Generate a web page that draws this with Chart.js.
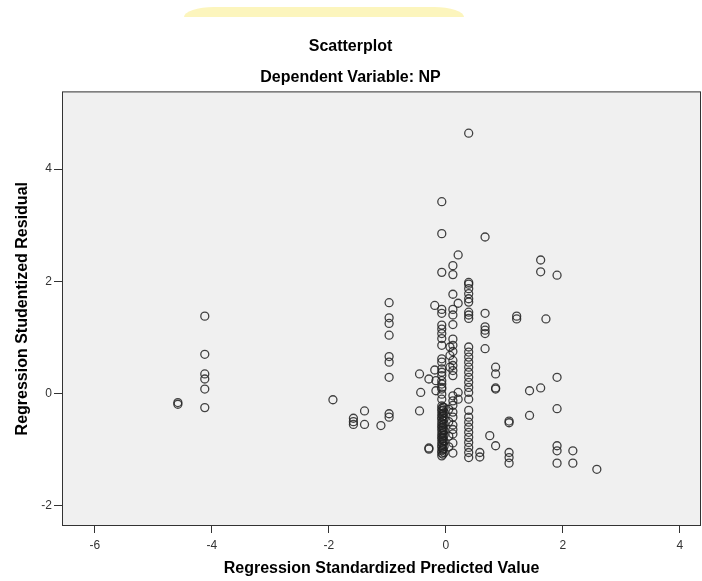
<!DOCTYPE html>
<html lang="en">
<head>
    <meta charset="UTF-8">
    <title>Scatterplot</title>
    <script src="https://cdn.jsdelivr.net/npm/chart.js"></script>
    <style>
        html, body { margin: 0; padding: 0; background: #fff; }
        .wrap { position: relative; width: 702px; height: 581px; }
        .tab {
            position: absolute; left: 184px; top: 7px; width: 280px; height: 10px;
            background: #fcf5bd;
            border-radius: 30px 30px 0 0 / 10px 10px 0 0;
        }
        canvas { position: absolute; left: 0; top: 0; }
    </style>
</head>
<body>
<div class="wrap">
    <div class="tab"></div>
    <canvas id="myChart" width="702" height="581"></canvas>
</div>
<script>
    // predicted value (x) of each column of points, and the residuals (y) found at it
    const predictedValues = [-4.58, -4.12, -1.93, -1.58, -1.39, -1.11, -0.97, -0.45, -0.43, -0.29, -0.19, -0.17,
        -0.07, -0.05, -0.03, 0.05, 0.07, 0.12, 0.21, 0.39, 0.58, 0.67, 0.75, 0.85, 1.08, 1.21, 1.43, 1.62, 1.71, 1.90, 2.17, 2.58];
    const residualsByColumn = [
        [-0.19, -0.16],
        [1.38, 0.70, 0.35, 0.26, 0.08, -0.25],
        [-0.11],
        [-0.44, -0.50, -0.55],
        [-0.31, -0.55],
        [-0.57],
        [1.62, 1.35, 1.25, 1.04, 0.66, 0.56, 0.29, -0.36, -0.42],
        [0.35, -0.31],
        [0.02],
        [0.26, -0.97, -0.99],
        [1.57, 0.42],
        [0.23, 0.05],
        [3.42, 2.85, 2.16, 1.50, 1.43, 1.22, 1.15, 1.07, 0.98, 0.86, 0.62, 0.56, 0.44, 0.38, 0.32, 0.23, 0.17, 0.11,
            0.08, -0.01, -0.10, -0.22, -0.27, -0.31, -0.37, -0.42, -0.46, -0.52, -0.57, -0.61, -0.66, -0.72, -0.77,
            -0.81, -0.87, -0.92, -0.96, -1.02, -1.06, -1.11],
        [-0.24, -0.30, -0.36, -0.40, -0.48, -0.55, -0.60, -0.64, -0.70, -0.75, -0.80, -0.84, -0.90, -0.98, -1.00, -1.08],
        [-0.25, -0.34, -0.45, -0.54, -0.66, -0.74, -0.85, -0.94, -1.05],
        [-0.28, -0.50, -0.76, -0.95],
        [0.83, 0.68, 0.47],
        [2.28, 2.12, 1.77, 1.50, 1.40, 1.23, 0.97, 0.86, 0.75, 0.59, 0.50, 0.41, 0.32, -0.04, -0.13, -0.21, -0.33,
            -0.42, -0.56, -0.64, -0.72, -0.88, -1.06],
        [2.47, 1.61, 0.02, -0.10],
        [4.64, 1.98, 1.95, 1.87, 1.78, 1.69, 1.63, 1.45, 1.40, 1.34, 0.83, 0.74, 0.65, 0.56, 0.47, 0.38, 0.29, 0.20,
            0.11, 0.02, -0.10, -0.30, -0.42, -0.51, -0.60, -0.69, -0.78, -0.87, -0.96, -1.05, -1.14],
        [-1.05, -1.13],
        [2.79, 1.43, 1.19, 1.13, 1.07, 0.80],
        [-0.75],
        [0.47, 0.35, 0.10, 0.08, -0.93],
        [-0.49, -0.52, -1.05, -1.14, -1.24],
        [1.38, 1.33],
        [0.05, -0.39],
        [2.38, 2.17, 0.10],
        [1.33],
        [2.11, 0.29, -0.27, -0.93, -1.02, -1.24],
        [-1.02, -1.24],
        [-1.35]
    ];
    const xTicks = [-6, -4, -2, 0, 2, 4];
    const yTicks = [-2, 0, 2, 4];

    let points = [];
    for (let i = 0; i < predictedValues.length; i++) {
        for (let r of residualsByColumn[i]) {
            points.push({ x: predictedValues[i], y: r });
        }
    }

    const fontFamily = 'Arial, "Liberation Sans", sans-serif';

    // grey plot background and the dark frame round it
    const plotFrame = {
        id: 'plotFrame',
        beforeDraw(chart) {
            const a = chart.chartArea;
            const ctx = chart.ctx;
            ctx.save();
            ctx.fillStyle = '#f0f0f0';
            ctx.fillRect(a.left, a.top, a.right - a.left, a.bottom - a.top);
            ctx.restore();
        },
        afterDraw(chart) {
            const a = chart.chartArea;
            const ctx = chart.ctx;
            ctx.save();
            ctx.strokeStyle = '#333';
            ctx.lineWidth = 1;
            ctx.strokeRect(a.left + 0.5, a.top + 0.5, a.right - a.left - 1, a.bottom - a.top - 1);
            ctx.restore();
        }
    };

    new Chart(document.getElementById('myChart'), {
        type: 'scatter',
        data: {
            datasets: [{
                data: points,
                pointStyle: 'circle',
                pointRadius: 4,
                pointHoverRadius: 4,
                borderWidth: 1.3,
                borderColor: 'rgba(34, 34, 34, 0.85)',
                backgroundColor: 'rgba(0, 0, 0, 0)'
            }]
        },
        options: {
            responsive: false,
            animation: false,
            events: [],
            layout: { autoPadding: false, padding: { top: 0, right: 1, bottom: 0, left: 0 } },
            plugins: {
                legend: { display: false },
                tooltip: { enabled: false },
                title: {
                    display: true,
                    text: 'Scatterplot',
                    color: '#000',
                    font: { family: fontFamily, size: 16, weight: 'bold' },
                    padding: { top: 37, bottom: 12 }
                },
                subtitle: {
                    display: true,
                    text: 'Dependent Variable: NP',
                    color: '#000',
                    font: { family: fontFamily, size: 16, weight: 'bold' },
                    padding: { top: 0, bottom: 4 }
                }
            },
            scales: {
                x: {
                    type: 'linear',
                    min: -6.56,
                    max: 4.36,
                    afterBuildTicks: (scale) => { scale.ticks = xTicks.map(v => ({ value: v })); },
                    afterFit: (scale) => { scale.height = 55; },
                    border: { display: false },
                    grid: { drawOnChartArea: false, drawTicks: true, tickLength: 7, tickColor: '#333' },
                    ticks: { color: '#333', padding: 5, font: { family: fontFamily, size: 12 } },
                    title: {
                        display: true,
                        text: 'Regression Standardized Predicted Value',
                        color: '#000',
                        font: { family: fontFamily, size: 16, weight: 'bold' },
                        padding: { top: 0, bottom: 3 }
                    }
                },
                y: {
                    type: 'linear',
                    min: -2.36,
                    max: 5.385,
                    afterBuildTicks: (scale) => { scale.ticks = yTicks.map(v => ({ value: v })); },
                    afterFit: (scale) => { scale.width = 62; },
                    border: { display: false },
                    grid: { drawOnChartArea: false, drawTicks: true, tickLength: 8, tickColor: '#333' },
                    ticks: { color: '#333', padding: 2, font: { family: fontFamily, size: 12 } },
                    title: {
                        display: true,
                        text: 'Regression Studentized Residual',
                        color: '#000',
                        font: { family: fontFamily, size: 16, weight: 'bold' },
                        padding: { top: 13, bottom: 0 }
                    }
                }
            }
        },
        plugins: [plotFrame]
    });
</script>
</body>
</html>
